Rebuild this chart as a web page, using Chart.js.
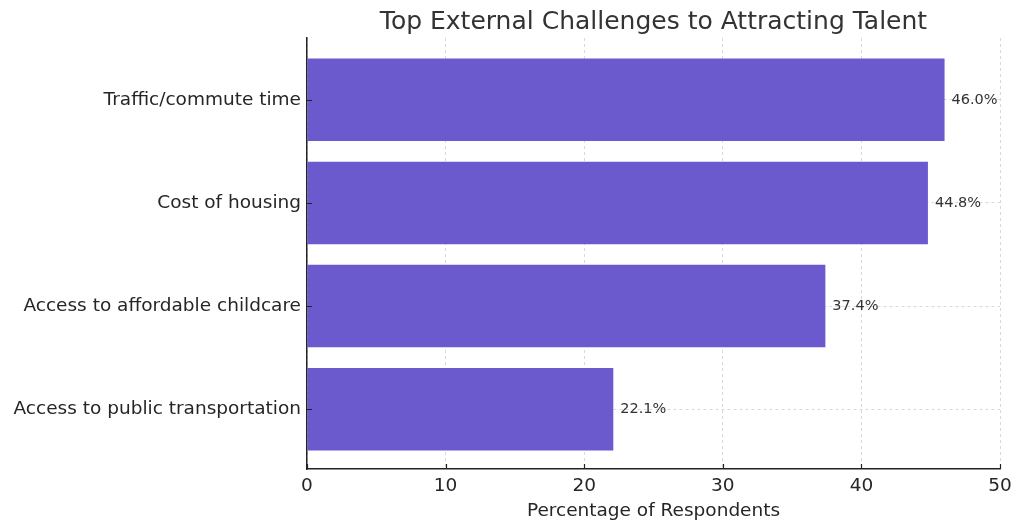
<!DOCTYPE html>
<html>
<head>
<meta charset="utf-8">
<script src="https://cdn.jsdelivr.net/npm/chart.js@4"></script>
<style>
  html, body { margin: 0; padding: 0; background: #fff; }
  #wrap { width: 1024px; height: 530px; }
</style>
</head>
<body>
<div id="wrap"><canvas id="myChart" width="1024" height="530"></canvas></div>
<script>
(() => {
  'use strict'

// Data
var categories = ['Traffic/commute time', 'Cost of housing', 'Access to affordable childcare', 'Access to public transportation'];
var percentages = [46.0, 44.8, 37.4, 22.1];
var xTicks = [0, 10, 20, 30, 40, 50];

var barColor = '#6a5acd';
var textColor = '#262626';
var titleText = 'Top External Challenges to Attracting Talent';
var font = "'DejaVu Sans', sans-serif";

// bars sit at index 0..3 on a linear axis, with matplotlib-like margins
var points = percentages.map(function (v, i) { return { x: v, y: i }; });

// Title centred over the plot area, value labels, inward tick marks
var extras = {
  id: 'extras',
  afterDatasetsDraw(chart) {
    var c = chart.ctx;
    var area = chart.chartArea;
    var xs = chart.scales.x;
    var ys = chart.scales.y;
    var meta = chart.getDatasetMeta(0);
    c.save();

    c.font = '14.5px ' + font;
    c.fillStyle = '#333333';
    c.textAlign = 'left';
    c.textBaseline = 'middle';
    meta.data.forEach(function (bar, i) {
      c.fillText(percentages[i].toFixed(1) + '%', bar.x + 7, bar.y);
    });

    c.strokeStyle = '#222222';
    c.lineWidth = 1.2;
    c.beginPath();
    xTicks.forEach(function (v) {
      var px = Math.round(xs.getPixelForValue(v)) + 0.5;
      c.moveTo(px, area.bottom);
      c.lineTo(px, area.bottom - 5);
    });
    categories.forEach(function (name, i) {
      var py = Math.round(ys.getPixelForValue(i)) + 0.5;
      c.moveTo(area.left, py);
      c.lineTo(area.left + 5, py);
    });
    c.stroke();

    c.font = '25px ' + font;
    c.fillStyle = '#333333';
    c.textAlign = 'center';
    c.textBaseline = 'middle';
    c.fillText(titleText, (area.left + area.right) / 2, 22);
    c.restore();
  }
};

var ctx = document.getElementById('myChart').getContext('2d');

new Chart(ctx, {
  type: 'bar',
  data: {
    datasets: [{
      data: points,
      backgroundColor: barColor,
      borderWidth: 0,
      barPercentage: 0.8,
      categoryPercentage: 1.0
    }]
  },
  options: {
    indexAxis: 'y',
    responsive: false,
    animation: false,
    layout: { padding: { top: 38, right: 24, left: 0, bottom: 0 } },
    plugins: {
      legend: { display: false },
      tooltip: { enabled: false },
      title: { display: false }
    },
    scales: {
      x: {
        type: 'linear',
        min: 0,
        max: 50,
        z: 1,
        afterFit: function (scale) { scale.height = 61; },
        afterBuildTicks: function (scale) {
          scale.ticks = xTicks.map(function (v) { return { value: v }; });
        },
        grid: {
          color: '#d0d0d0',
          lineWidth: 0.8,
          drawTicks: false
        },
        border: { display: true, color: '#222222', width: 1.5, dash: [3, 3] },
        ticks: {
          color: textColor,
          font: { family: font, size: 18.5 },
          padding: 6,
          maxRotation: 0
        },
        title: {
          display: true,
          text: 'Percentage of Respondents',
          color: textColor,
          font: { family: font, size: 18.5 },
          padding: { top: 0, bottom: 8 }
        }
      },
      y: {
        type: 'linear',
        reverse: true,
        min: -0.6,
        max: 3.58,
        offset: false,
        z: 1,
        afterFit: function (scale) { scale.width = 307; },
        afterBuildTicks: function (scale) {
          scale.ticks = categories.map(function (name, i) { return { value: i }; });
        },
        grid: {
          offset: false,
          color: '#d0d0d0',
          lineWidth: 0.8,
          drawTicks: false
        },
        border: { display: true, color: '#222222', width: 1.5, dash: [3, 3] },
        ticks: {
          color: textColor,
          font: { family: font, size: 18.5 },
          padding: 6,
          callback: function (value) { return categories[value]; }
        }
      }
    }
  },
  plugins: [extras]
});
})()
</script>
</body>
</html>
